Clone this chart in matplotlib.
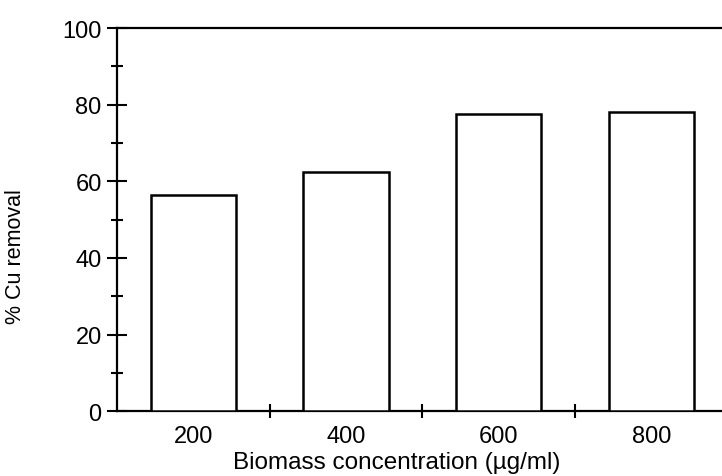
import numpy as np
import matplotlib.pyplot as plt
from matplotlib.ticker import MultipleLocator

plt.rcParams['font.family'] = ['Liberation Sans', 'DejaVu Sans']

# biomass dose vs copper removal
biomass = [200, 400, 600, 800]
cu_removal = [56.5, 62.5, 77.5, 78]
tick_labels = ['200', '400', '600', '800']

fig = plt.figure(figsize=(7.22, 4.77), dpi=100)
ax = fig.add_axes([0.162, 0.136, 0.846, 0.803])

ax.bar(biomass, cu_removal, width=112, color='white', edgecolor='black',
       linewidth=1.8, zorder=3)

ax.set_xlim(100, 900)
ax.set_ylim(0, 100)
ax.set_xticks(biomass)
ax.set_xticklabels(tick_labels)
ax.set_xticks([300, 500, 700], minor=True)
ax.yaxis.set_major_locator(MultipleLocator(20))
ax.yaxis.set_minor_locator(MultipleLocator(10))

ax.tick_params(axis='x', which='major', length=0, pad=10, labelsize=17)
ax.tick_params(axis='x', which='minor', direction='inout', length=10, width=1.5)
ax.tick_params(axis='y', which='major', direction='inout', length=14, width=1.5,
               pad=4, labelsize=17)
ax.tick_params(axis='y', which='minor', direction='inout', length=9, width=1.5)

for side in ['left', 'bottom', 'top']:
    ax.spines[side].set_linewidth(1.6)
ax.spines['right'].set_visible(False)

ax.set_xlabel('Biomass concentration (µg/ml)', fontsize=17.5)
ax.xaxis.set_label_coords(0.458, -0.105)
ax.set_ylabel('% Cu removal', fontsize=15.5)
ax.yaxis.set_label_coords(-0.149, 0.405)

fig.savefig('out.png', dpi=100)
